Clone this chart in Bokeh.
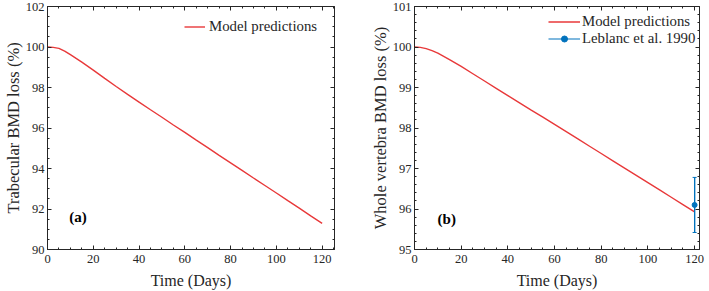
from bokeh.plotting import figure
from bokeh.layouts import row
from bokeh.models import (LinearAxis, Range1d, Legend, LegendItem, Label,
                          SingleIntervalTicker, Whisker, ColumnDataSource,
                          CustomLabelingPolicy)
from bokeh.embed import file_html
from bokeh.resources import INLINE

# ---------------- data ----------------
days = [0, 2.5, 5, 7.5, 10, 15, 20, 25, 30, 35, 40, 45, 50, 55, 60, 65, 70,
        75, 80, 85, 90, 95, 100, 105, 110, 115, 120]
trabecular = [100.0, 99.98, 99.93, 99.80, 99.62, 99.25, 98.86, 98.45, 98.05,
              97.66, 97.28, 96.90, 96.53, 96.15, 95.78, 95.40, 95.03, 94.65,
              94.28, 93.91, 93.53, 93.16, 92.79, 92.41, 92.04, 91.66, 91.29]
whole = [100.0, 99.99, 99.96, 99.91, 99.85, 99.69, 99.52, 99.34, 99.16,
         98.98, 98.80, 98.62, 98.44, 98.27, 98.09, 97.91, 97.73, 97.55,
         97.37, 97.19, 97.01, 96.83, 96.65, 96.47, 96.29, 96.11, 95.93]
obs_day = [120]
obs_val = [96.1]
obs_lo = [95.42]
obs_hi = [96.78]

RED = "#e8393a"
BLUE = "#0072bd"
AX = "#262626"
FONT = "Liberation Serif"

NO_LABELS = """
for (let i = 0; i < indices.size; i++) {
  try { indices.unset(i) } catch (e) { try { indices.set(i, false) } catch (e2) {} }
}
return indices
"""


def style_axis(ax, labels=True):
    ax.major_tick_in = 4
    ax.major_tick_out = 0
    ax.minor_tick_in = 2
    ax.minor_tick_out = 0
    ax.axis_line_color = AX
    ax.major_tick_line_color = AX
    ax.minor_tick_line_color = AX
    ax.axis_line_width = 1
    ax.major_label_text_font = FONT
    ax.major_label_text_color = AX
    ax.axis_label_text_font = FONT
    ax.axis_label_text_font_style = "normal"
    ax.axis_label_text_color = AX
    if labels:
        ax.major_label_text_font_size = "12.5px"
        ax.major_label_standoff = 3
    else:
        ax.major_label_text_font_size = "0px"
        ax.major_label_standoff = 0
        ax.major_label_policy = CustomLabelingPolicy(code=NO_LABELS)


def make_fig(width, xhi, ylo, yhi, ystep, yminor, ylabel, bl, br, bb):
    p = figure(width=width, height=291, output_backend="svg",
               toolbar_location=None,
               x_range=Range1d(0, xhi), y_range=Range1d(ylo, yhi),
               min_border_left=bl, min_border_right=br,
               min_border_top=6, min_border_bottom=bb)
    p.grid.visible = False
    p.outline_line_color = None
    p.background_fill_color = "white"
    p.border_fill_color = "white"
    p.xaxis.ticker = SingleIntervalTicker(interval=20, num_minor_ticks=4)
    p.yaxis.ticker = SingleIntervalTicker(interval=ystep, num_minor_ticks=yminor)
    style_axis(p.xaxis[0])
    style_axis(p.yaxis[0])
    p.xaxis.major_label_standoff = 5
    p.xaxis.axis_label = "Time (Days)"
    p.xaxis.axis_label_text_font_size = "16px"
    p.xaxis.axis_label_standoff = 6
    p.yaxis.axis_label = ylabel
    p.yaxis.axis_label_text_font_size = "16.5px"
    p.yaxis.axis_label_standoff = 0
    top = LinearAxis(ticker=SingleIntervalTicker(interval=20, num_minor_ticks=4))
    right = LinearAxis(ticker=SingleIntervalTicker(interval=ystep, num_minor_ticks=yminor))
    style_axis(top, labels=False)
    style_axis(right, labels=False)
    p.add_layout(top, "above")
    p.add_layout(right, "right")
    return p


def style_legend(lg, glyph_w, standoff):
    lg.border_line_alpha = 0
    lg.background_fill_alpha = 0
    lg.label_text_font = FONT
    lg.label_text_font_size = "14.8px"
    lg.label_text_color = AX
    lg.label_text_baseline = "middle"
    lg.glyph_width = glyph_w
    lg.glyph_height = 15
    lg.label_height = 15
    lg.spacing = 0
    lg.padding = 2
    lg.margin = 0
    lg.label_standoff = standoff


# -------- panel (a) --------
pa = make_fig(355, 125.4, 90, 102, 2, 4, "Trabecular BMD loss (%)", 45, 21, 42)
la = pa.line(days, trabecular, line_color=RED, line_width=1.4)
leg_a = Legend(items=[LegendItem(label="Model predictions", renderers=[la])],
               location=(135, 212))
style_legend(leg_a, 21, 4)
pa.add_layout(leg_a)
pa.add_layout(Label(x=9.5, y=91.62, text="(a)", text_font=FONT,
                    text_font_style="bold", text_font_size="15px",
                    text_baseline="middle", text_color="black"))

# -------- panel (b) --------
pb = make_fig(354, 122.1, 95, 101, 1, 5, "Whole vertebra BMD loss (%)", 59, 10, 39)
lb = pb.line(days, whole, line_color=RED, line_width=1.4)
src = ColumnDataSource(dict(x=obs_day, y=obs_val, lo=obs_lo, hi=obs_hi))
eb = pb.segment(x0="x", y0="lo", x1="x", y1="hi", source=src,
                line_color=BLUE, line_width=1.2)
wk = Whisker(base="x", lower="lo", upper="hi", source=src,
             line_color=BLUE, line_width=1.2)
wk.upper_head.size = 4
wk.lower_head.size = 4
wk.upper_head.line_color = BLUE
wk.lower_head.line_color = BLUE
pb.add_layout(wk)
pt = pb.scatter("x", "y", source=src, size=5, color=BLUE)
leg_b = Legend(items=[LegendItem(label="Model predictions", renderers=[lb]),
                      LegendItem(label="Leblanc et al. 1990", renderers=[eb, pt])],
               location=(132, 200))
style_legend(leg_b, 32, 2)
pb.add_layout(leg_b)
pb.add_layout(Label(x=9.9, y=95.75, text="(b)", text_font=FONT,
                    text_font_style="bold", text_font_size="15px",
                    text_baseline="middle", text_color="black"))

layout = row(pa, pb)
open("out.html", "w").write(file_html(layout, INLINE))
